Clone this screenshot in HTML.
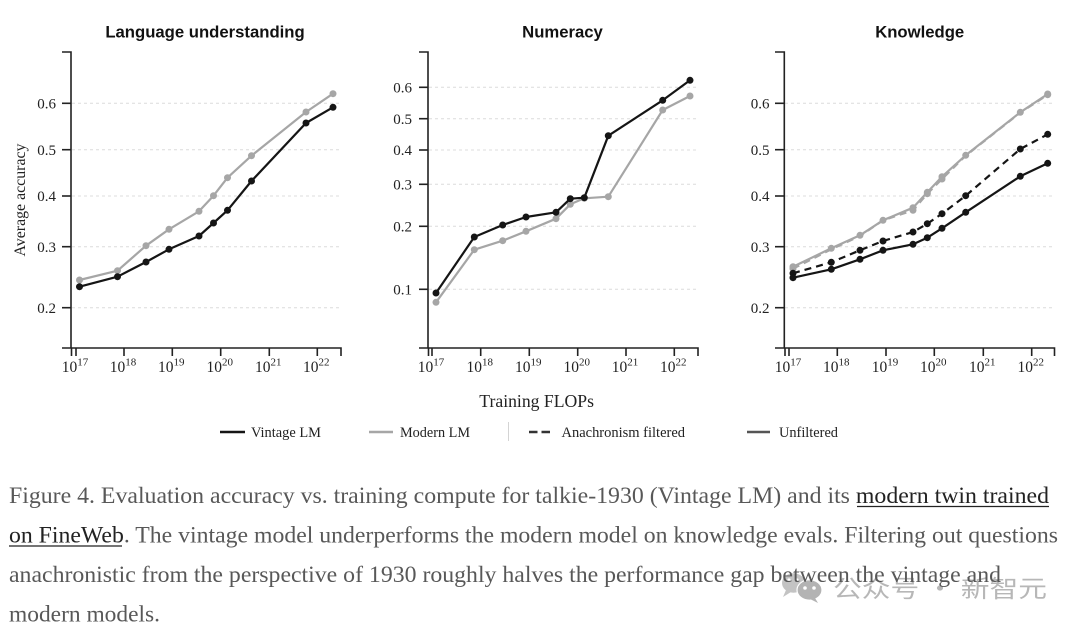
<!DOCTYPE html>
<html>
<head>
<meta charset="utf-8">
<style>
html,body{margin:0;padding:0;background:#fff;}
svg{display:block;}
.t{font-family:"Liberation Sans",Arial,sans-serif;font-weight:bold;font-size:16.7px;fill:#111;}
.tk{font-family:"Liberation Serif","Times New Roman",serif;font-size:15px;fill:#222;}
.xl{font-family:"Liberation Serif","Times New Roman",serif;font-size:15.5px;fill:#222;}
.sp{font-size:11px;}
.lg{font-family:"Liberation Serif","Times New Roman",serif;font-size:14.2px;fill:#222;}
.cap{font-family:"Liberation Serif","Times New Roman",serif;font-size:23px;fill:#585858;}
.lk{fill:#222;}
.g{stroke:#dcdcdc;stroke-width:1;stroke-dasharray:3,3;}
.ax{stroke:#222;stroke-width:1.6;fill:none;}
.bl{stroke:#151515;stroke-width:2.2;fill:none;stroke-linejoin:round;}
.gr{stroke:#a6a6a6;stroke-width:2.2;fill:none;stroke-linejoin:round;}
.dsh{stroke-dasharray:7,5;}
.bd{fill:#151515;}
.gd{fill:#a6a6a6;}
</style>
</head>
<body>
<svg width="1080" height="628" viewBox="0 0 1080 628" xmlns="http://www.w3.org/2000/svg">
<rect width="1080" height="628" fill="#fff"/>

<!-- ===== Panel 1: Language understanding ===== -->
<text class="t" x="205" y="37.5" text-anchor="middle">Language understanding</text>
<g>
<line class="g" x1="72" y1="103.3" x2="340" y2="103.3"/>
<line class="g" x1="72" y1="149.7" x2="340" y2="149.7"/>
<line class="g" x1="72" y1="196" x2="340" y2="196"/>
<line class="g" x1="72" y1="246.7" x2="340" y2="246.7"/>
<line class="g" x1="72" y1="307.7" x2="340" y2="307.7"/>
<path class="ax" d="M62,52H71V348H62"/>
<path class="ax" d="M71.5,356V348H341V356"/>
<g class="ax">
<line x1="62" y1="103.3" x2="71" y2="103.3"/>
<line x1="62" y1="149.7" x2="71" y2="149.7"/>
<line x1="62" y1="196" x2="71" y2="196"/>
<line x1="62" y1="246.7" x2="71" y2="246.7"/>
<line x1="62" y1="307.7" x2="71" y2="307.7"/>
<line x1="76" y1="348" x2="76" y2="356"/>
<line x1="124" y1="348" x2="124" y2="356"/>
<line x1="172.3" y1="348" x2="172.3" y2="356"/>
<line x1="220.7" y1="348" x2="220.7" y2="356"/>
<line x1="269.3" y1="348" x2="269.3" y2="356"/>
<line x1="317.3" y1="348" x2="317.3" y2="356"/>
</g>
<g class="tk" text-anchor="end">
<text x="56" y="108.5">0.6</text>
<text x="56" y="154.9">0.5</text>
<text x="56" y="201.2">0.4</text>
<text x="56" y="251.9">0.3</text>
<text x="56" y="312.9">0.2</text>
</g>
<g class="xl" text-anchor="middle">
<text x="75" y="372">10<tspan class="sp" dy="-6.5">17</tspan></text>
<text x="123" y="372">10<tspan class="sp" dy="-6.5">18</tspan></text>
<text x="171.3" y="372">10<tspan class="sp" dy="-6.5">19</tspan></text>
<text x="219.7" y="372">10<tspan class="sp" dy="-6.5">20</tspan></text>
<text x="268.3" y="372">10<tspan class="sp" dy="-6.5">21</tspan></text>
<text x="316.3" y="372">10<tspan class="sp" dy="-6.5">22</tspan></text>
</g>
<text class="lg" transform="translate(25,200) rotate(-90)" text-anchor="middle" textLength="113" lengthAdjust="spacingAndGlyphs" style="font-size:15.7px">Average accuracy</text>
<polyline class="gr" points="79.5,280 117.5,270.7 146,245.7 169,229.3 199,211.3 213.5,195.7 227.5,177.7 251.5,155.7 306,112 333,93.7"/>
<g class="gd">
<circle cx="79.5" cy="280" r="3.5"/><circle cx="117.5" cy="270.7" r="3.5"/><circle cx="146" cy="245.7" r="3.5"/><circle cx="169" cy="229.3" r="3.5"/><circle cx="199" cy="211.3" r="3.5"/><circle cx="213.5" cy="195.7" r="3.5"/><circle cx="227.5" cy="177.7" r="3.5"/><circle cx="251.5" cy="155.7" r="3.5"/><circle cx="306" cy="112" r="3.5"/><circle cx="333" cy="93.7" r="3.5"/>
</g>
<polyline class="bl" points="79.5,286.7 117.5,276.7 146,262 169,249.3 199,236 213.5,223 227.5,210.3 251.5,181 306,123 333,107.3"/>
<g class="bd">
<circle cx="79.5" cy="286.7" r="3.5"/><circle cx="117.5" cy="276.7" r="3.5"/><circle cx="146" cy="262" r="3.5"/><circle cx="169" cy="249.3" r="3.5"/><circle cx="199" cy="236" r="3.5"/><circle cx="213.5" cy="223" r="3.5"/><circle cx="227.5" cy="210.3" r="3.5"/><circle cx="251.5" cy="181" r="3.5"/><circle cx="306" cy="123" r="3.5"/><circle cx="333" cy="107.3" r="3.5"/>
</g>
</g>

<!-- ===== Panel 2: Numeracy ===== -->
<text class="t" x="562.5" y="37.5" text-anchor="middle">Numeracy</text>
<g>
<line class="g" x1="429" y1="87.3" x2="697" y2="87.3"/>
<line class="g" x1="429" y1="118.7" x2="697" y2="118.7"/>
<line class="g" x1="429" y1="150" x2="697" y2="150"/>
<line class="g" x1="429" y1="184.3" x2="697" y2="184.3"/>
<line class="g" x1="429" y1="226.3" x2="697" y2="226.3"/>
<line class="g" x1="429" y1="289.3" x2="697" y2="289.3"/>
<path class="ax" d="M419,52H428V348H419"/>
<path class="ax" d="M428.5,356V348H698V356"/>
<g class="ax">
<line x1="419" y1="87.3" x2="428" y2="87.3"/>
<line x1="419" y1="118.7" x2="428" y2="118.7"/>
<line x1="419" y1="150" x2="428" y2="150"/>
<line x1="419" y1="184.3" x2="428" y2="184.3"/>
<line x1="419" y1="226.3" x2="428" y2="226.3"/>
<line x1="419" y1="289.3" x2="428" y2="289.3"/>
<line x1="432" y1="348" x2="432" y2="356"/>
<line x1="480.7" y1="348" x2="480.7" y2="356"/>
<line x1="529.3" y1="348" x2="529.3" y2="356"/>
<line x1="577.7" y1="348" x2="577.7" y2="356"/>
<line x1="626" y1="348" x2="626" y2="356"/>
<line x1="674.3" y1="348" x2="674.3" y2="356"/>
</g>
<g class="tk" text-anchor="end">
<text x="412" y="92.5">0.6</text>
<text x="412" y="123.9">0.5</text>
<text x="412" y="155.2">0.4</text>
<text x="412" y="189.5">0.3</text>
<text x="412" y="231.5">0.2</text>
<text x="412" y="294.5">0.1</text>
</g>
<g class="xl" text-anchor="middle">
<text x="431" y="372">10<tspan class="sp" dy="-6.5">17</tspan></text>
<text x="479.7" y="372">10<tspan class="sp" dy="-6.5">18</tspan></text>
<text x="528.3" y="372">10<tspan class="sp" dy="-6.5">19</tspan></text>
<text x="576.7" y="372">10<tspan class="sp" dy="-6.5">20</tspan></text>
<text x="625" y="372">10<tspan class="sp" dy="-6.5">21</tspan></text>
<text x="673.3" y="372">10<tspan class="sp" dy="-6.5">22</tspan></text>
</g>
<polyline class="gr" points="436,302.3 474.3,249.7 502.7,240.7 526,231.3 556,218.7 570.3,204.3 584.3,198.3 608.3,196.7 662.7,110 690,96"/>
<g class="gd">
<circle cx="436" cy="302.3" r="3.5"/><circle cx="474.3" cy="249.7" r="3.5"/><circle cx="502.7" cy="240.7" r="3.5"/><circle cx="526" cy="231.3" r="3.5"/><circle cx="556" cy="218.7" r="3.5"/><circle cx="570.3" cy="204.3" r="3.5"/><circle cx="584.3" cy="198.3" r="3.5"/><circle cx="608.3" cy="196.7" r="3.5"/><circle cx="662.7" cy="110" r="3.5"/><circle cx="690" cy="96" r="3.5"/>
</g>
<polyline class="bl" points="436,293 474.3,237 502.7,225 526,217 556,212.3 570.3,198.7 584.3,197.7 608.3,135.7 662.7,100.3 690,80.3"/>
<g class="bd">
<circle cx="436" cy="293" r="3.5"/><circle cx="474.3" cy="237" r="3.5"/><circle cx="502.7" cy="225" r="3.5"/><circle cx="526" cy="217" r="3.5"/><circle cx="556" cy="212.3" r="3.5"/><circle cx="570.3" cy="198.7" r="3.5"/><circle cx="584.3" cy="197.7" r="3.5"/><circle cx="608.3" cy="135.7" r="3.5"/><circle cx="662.7" cy="100.3" r="3.5"/><circle cx="690" cy="80.3" r="3.5"/>
</g>
</g>

<!-- ===== Panel 3: Knowledge ===== -->
<text class="t" x="919.7" y="37.5" text-anchor="middle">Knowledge</text>
<g>
<line class="g" x1="785" y1="103.3" x2="1054" y2="103.3"/>
<line class="g" x1="785" y1="149.7" x2="1054" y2="149.7"/>
<line class="g" x1="785" y1="196" x2="1054" y2="196"/>
<line class="g" x1="785" y1="246.7" x2="1054" y2="246.7"/>
<line class="g" x1="785" y1="307.7" x2="1054" y2="307.7"/>
<path class="ax" d="M775,52H784.3V348H775"/>
<path class="ax" d="M785,356V348H1054.5V356"/>
<g class="ax">
<line x1="775" y1="103.3" x2="784.3" y2="103.3"/>
<line x1="775" y1="149.7" x2="784.3" y2="149.7"/>
<line x1="775" y1="196" x2="784.3" y2="196"/>
<line x1="775" y1="246.7" x2="784.3" y2="246.7"/>
<line x1="775" y1="307.7" x2="784.3" y2="307.7"/>
<line x1="789" y1="348" x2="789" y2="356"/>
<line x1="837.3" y1="348" x2="837.3" y2="356"/>
<line x1="886" y1="348" x2="886" y2="356"/>
<line x1="934.3" y1="348" x2="934.3" y2="356"/>
<line x1="983.3" y1="348" x2="983.3" y2="356"/>
<line x1="1031.7" y1="348" x2="1031.7" y2="356"/>
</g>
<g class="tk" text-anchor="end">
<text x="769.5" y="108.5">0.6</text>
<text x="769.5" y="154.9">0.5</text>
<text x="769.5" y="201.2">0.4</text>
<text x="769.5" y="251.9">0.3</text>
<text x="769.5" y="312.9">0.2</text>
</g>
<g class="xl" text-anchor="middle">
<text x="788" y="372">10<tspan class="sp" dy="-6.5">17</tspan></text>
<text x="836.3" y="372">10<tspan class="sp" dy="-6.5">18</tspan></text>
<text x="885" y="372">10<tspan class="sp" dy="-6.5">19</tspan></text>
<text x="933.3" y="372">10<tspan class="sp" dy="-6.5">20</tspan></text>
<text x="982.3" y="372">10<tspan class="sp" dy="-6.5">21</tspan></text>
<text x="1030.7" y="372">10<tspan class="sp" dy="-6.5">22</tspan></text>
</g>
<!-- modern unfiltered -->
<polyline class="gr" points="793,266.7 831.3,248.3 860,235.3 883,220.3 913,207.7 927.3,192.3 942,176.7 965.7,155.3 1020.3,112.3 1047.7,94"/>
<!-- modern filtered -->
<polyline class="gr dsh" points="793,268.7 831.3,249.3 860,236 883,220.3 913,210.3 927.3,193.7 942,179 965.7,155.7 1020.3,112.7 1047.7,94.7"/>
<g class="gd">
<circle cx="793" cy="266.7" r="3.5"/><circle cx="831.3" cy="248.3" r="3.5"/><circle cx="860" cy="235.3" r="3.5"/><circle cx="883" cy="220.3" r="3.5"/><circle cx="913" cy="207.7" r="3.5"/><circle cx="927.3" cy="192.3" r="3.5"/><circle cx="942" cy="176.7" r="3.5"/><circle cx="965.7" cy="155.3" r="3.5"/><circle cx="1020.3" cy="112.3" r="3.5"/><circle cx="1047.7" cy="94" r="3.5"/>
<circle cx="793" cy="268.7" r="3.5"/><circle cx="913" cy="210.3" r="3.5"/><circle cx="927.3" cy="193.7" r="3.5"/><circle cx="942" cy="179" r="3.5"/><circle cx="1047.7" cy="94.7" r="3.5"/>
</g>
<!-- vintage filtered -->
<polyline class="bl dsh" points="793,273.3 831.3,262.3 860,250.3 883,241 913,232 927.3,223.7 942,213.7 965.7,195.7 1020.3,149 1047.7,134.3"/>
<g class="bd">
<circle cx="793" cy="273.3" r="3.5"/><circle cx="831.3" cy="262.3" r="3.5"/><circle cx="860" cy="250.3" r="3.5"/><circle cx="883" cy="241" r="3.5"/><circle cx="913" cy="232" r="3.5"/><circle cx="927.3" cy="223.7" r="3.5"/><circle cx="942" cy="213.7" r="3.5"/><circle cx="965.7" cy="195.7" r="3.5"/><circle cx="1020.3" cy="149" r="3.5"/><circle cx="1047.7" cy="134.3" r="3.5"/>
</g>
<!-- vintage unfiltered -->
<polyline class="bl" points="793,277.7 831.3,269.3 860,259.3 883,250.3 913,244.3 927.3,237.7 942,228.3 965.7,212.3 1020.3,176.3 1047.7,163.3"/>
<g class="bd">
<circle cx="793" cy="277.7" r="3.5"/><circle cx="831.3" cy="269.3" r="3.5"/><circle cx="860" cy="259.3" r="3.5"/><circle cx="883" cy="250.3" r="3.5"/><circle cx="913" cy="244.3" r="3.5"/><circle cx="927.3" cy="237.7" r="3.5"/><circle cx="942" cy="228.3" r="3.5"/><circle cx="965.7" cy="212.3" r="3.5"/><circle cx="1020.3" cy="176.3" r="3.5"/><circle cx="1047.7" cy="163.3" r="3.5"/>
</g>
</g>

<!-- ===== X label & legend ===== -->
<text class="lg" x="479.3" y="407" textLength="114.7" lengthAdjust="spacingAndGlyphs" style="font-size:17.6px">Training FLOPs</text>

<line x1="220" y1="432" x2="245" y2="432" stroke="#151515" stroke-width="2.5"/>
<text class="lg" x="251" y="437" textLength="70" lengthAdjust="spacingAndGlyphs">Vintage LM</text>
<line x1="369" y1="432" x2="393" y2="432" stroke="#a6a6a6" stroke-width="2.5"/>
<text class="lg" x="400" y="437" textLength="70" lengthAdjust="spacingAndGlyphs">Modern LM</text>
<line x1="508.5" y1="422" x2="508.5" y2="441" stroke="#d4d4d4" stroke-width="1"/>
<line x1="529" y1="432" x2="537.5" y2="432" stroke="#333" stroke-width="2.5"/>
<line x1="541.5" y1="432" x2="550" y2="432" stroke="#333" stroke-width="2.5"/>
<text class="lg" x="561.5" y="437" textLength="123.5" lengthAdjust="spacingAndGlyphs">Anachronism filtered</text>
<line x1="747" y1="432" x2="770" y2="432" stroke="#555" stroke-width="2.5"/>
<text class="lg" x="779" y="437" textLength="59" lengthAdjust="spacingAndGlyphs">Unfiltered</text>

<!-- ===== Watermark ===== -->
<g opacity="0.75">
<ellipse cx="793.5" cy="583" rx="11.5" ry="9.8" fill="#b0b0b0"/>
<path d="M786,590 L783,597 L791,592 Z" fill="#b0b0b0"/>
<ellipse cx="809.5" cy="590" rx="12.5" ry="10.2" fill="#9a9a9a" stroke="#fff" stroke-width="1.2"/>
<path d="M815,598 L818,603 L810,599 Z" fill="#9a9a9a"/>
<circle cx="789" cy="580" r="1.6" fill="#fff"/>
<circle cx="797" cy="580" r="1.6" fill="#fff"/>
<circle cx="805" cy="588" r="1.8" fill="#fff"/>
<circle cx="814" cy="588" r="1.8" fill="#fff"/>
<text x="833" y="597" textLength="214" lengthAdjust="spacingAndGlyphs" style="font-family:'Noto Sans CJK SC','WenQuanYi Zen Hei',sans-serif;font-size:24px;fill:#a0a0a0;">公众号 · 新智元</text>
</g>

<!-- ===== Caption ===== -->
<text class="cap" x="9" y="503" textLength="1040" lengthAdjust="spacingAndGlyphs">Figure 4. Evaluation accuracy vs. training compute for talkie-1930 (Vintage LM) and its <tspan class="lk">modern twin trained</tspan></text>
<line x1="857" y1="506.5" x2="1049" y2="506.5" stroke="#222" stroke-width="1.2"/>
<text class="cap" x="9" y="542.5" textLength="1049" lengthAdjust="spacingAndGlyphs"><tspan class="lk">on FineWeb</tspan>. The vintage model underperforms the modern model on knowledge evals. Filtering out questions</text>
<line x1="9" y1="546" x2="122" y2="546" stroke="#222" stroke-width="1.2"/>
<text class="cap" x="9" y="582" textLength="992" lengthAdjust="spacingAndGlyphs">anachronistic from the perspective of 1930 roughly halves the performance gap between the vintage and</text>
<text class="cap" x="9" y="621.5" textLength="151" lengthAdjust="spacingAndGlyphs">modern models.</text>
</svg>
</body>
</html>
